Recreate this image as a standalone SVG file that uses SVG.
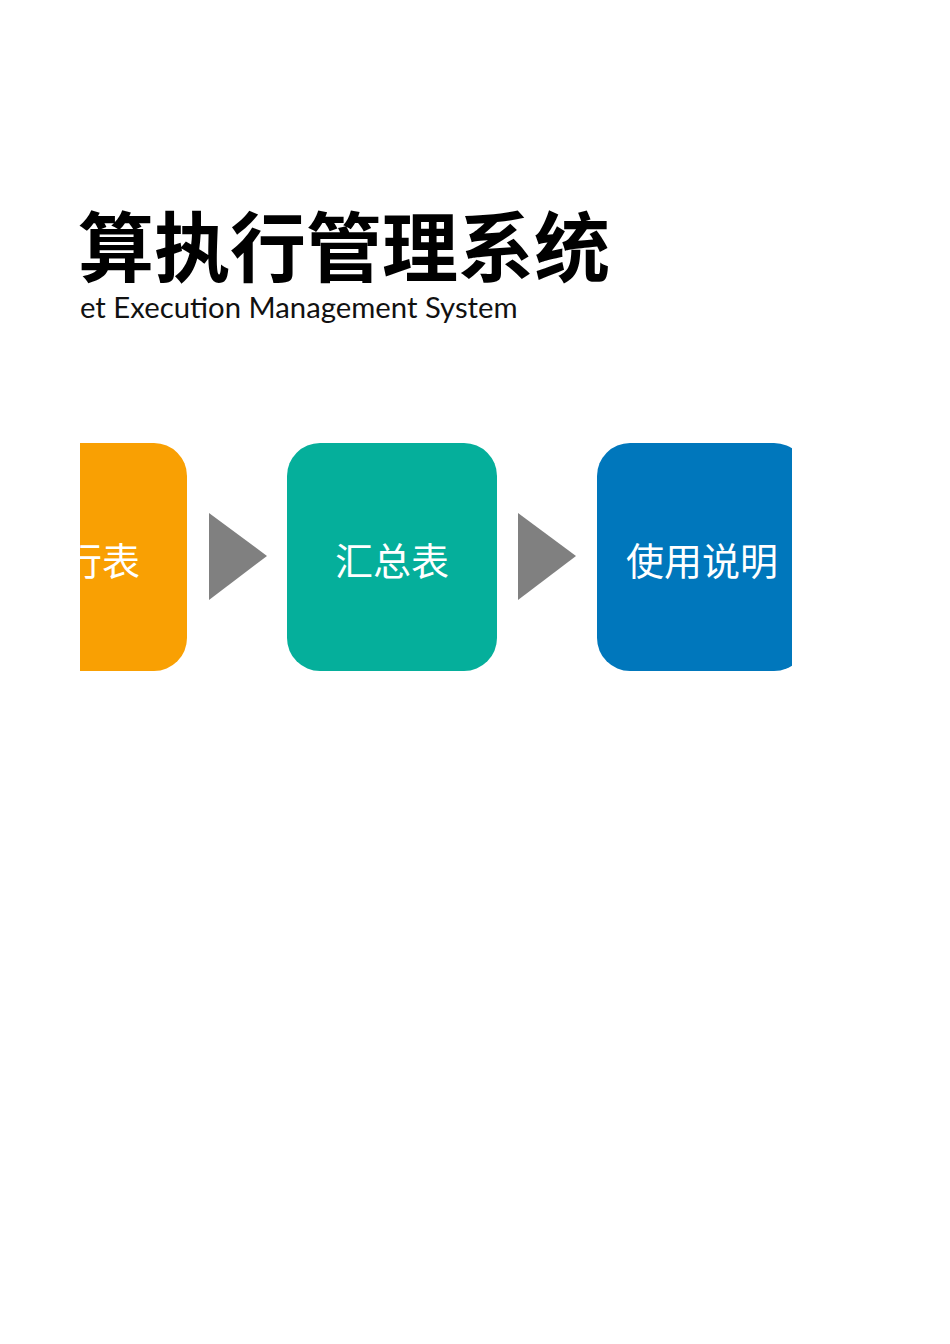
<svg xmlns="http://www.w3.org/2000/svg" width="950" height="1344" viewBox="0 0 950 1344">
<style>
.box-label{font-family:"Noto Sans CJK SC","Noto Sans",sans-serif;font-size:38px;fill:#ffffff;text-anchor:middle}
.arrow{fill:#808080}
</style>
<defs>
<clipPath id="frame"><rect x="80" y="0" width="712" height="1344"/></clipPath>
</defs>
<rect width="950" height="1344" fill="#ffffff"/>
<g id="title">
<text x="78" y="276" font-family="'Noto Sans CJK SC',sans-serif" font-weight="700" font-size="76" fill="#000000">算执行管理系统</text>
<text x="80" y="318" font-family="Lato,'Open Sans',sans-serif" font-size="29.3" fill="#111111">et Execution Management System</text>
</g>
<g clip-path="url(#frame)">
<g id="node-exec">
<rect x="-23" y="443" width="210" height="228" rx="33" fill="#F9A003"/>
<text x="140" y="575" class="box-label" style="text-anchor:end">行表</text>
</g>
<g id="node-summary">
<rect x="287" y="443" width="210" height="228" rx="33" fill="#05AF9B"/>
<text x="392" y="575" class="box-label">汇总表</text>
</g>
<g id="node-usage">
<rect x="597" y="443" width="210" height="228" rx="33" fill="#0077BC"/>
<text x="702" y="575" class="box-label">使用说明</text>
</g>
</g>
<g id="connectors">
<polygon class="arrow" points="209,513 267,556 209,600"/>
<polygon class="arrow" points="518,513 576,556 518,600"/>
</g>
</svg>
